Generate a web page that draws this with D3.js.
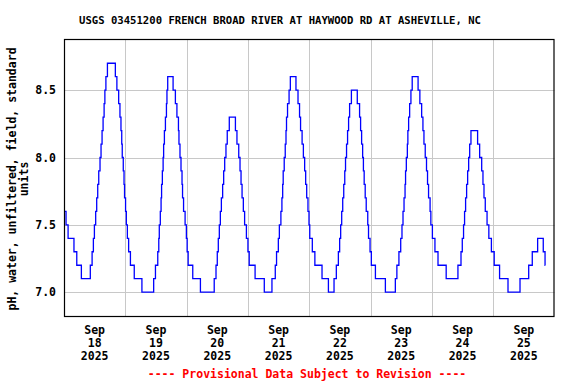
<!DOCTYPE html>
<html><head><meta charset="utf-8">
<title>USGS 03451200 pH</title>
<script src="https://cdn.jsdelivr.net/npm/d3@7"></script>
<style>
body { margin: 0; background: #fff; }
svg text { font-family: "DejaVu Sans Mono", monospace; font-weight: bold; fill: #000; }
</style>
</head>
<body>
<svg id="chart" width="576" height="384"></svg>
<script>
const title = "USGS 03451200 FRENCH BROAD RIVER AT HAYWOOD RD AT ASHEVILLE, NC";
const yLabelLines = ["pH, water, unfiltered, field, standard", "units"];
const footer = "---- Provisional Data Subject to Revision ----";
const xMonth = "Sep";
const xDays = ["18", "19", "20", "21", "22", "23", "24", "25"];
const xYear = "2025";
const yTicks = [7.0, 7.5, 8.0, 8.5];

// points where the reading changes: hours after 2025-09-18 00:00, pH
const stepHours = [
  0.0, 0.8, 1.6, 3.9, 5.0, 6.8, 10.3, 11.0, 11.5, 11.9, 12.4, 12.8, 13.2, 13.6, 14.1, 14.5,
  14.9, 15.3, 15.7, 16.0, 16.4, 17.0, 20.1, 20.7, 21.4, 21.9, 22.3, 22.6, 22.8, 23.2, 23.5, 23.7,
  24.1, 24.4, 24.8, 25.3, 26.0, 27.5, 30.5, 35.1, 35.8, 36.7, 37.1, 37.3, 37.7, 38.0, 38.2, 38.5,
  38.8, 39.0, 39.3, 39.7, 40.1, 40.3, 40.6, 42.7, 43.6, 44.2, 44.8, 45.0, 45.4, 45.8, 46.2, 46.4,
  46.8, 47.4, 47.9, 48.2, 48.6, 50.4, 53.4, 58.8, 59.5, 60.0, 60.4, 60.8, 61.2, 61.6, 62.1, 62.5,
  62.9, 63.4, 63.9, 64.7, 67.1, 67.7, 68.4, 68.9, 69.3, 69.7, 70.2, 70.7, 71.4, 72.0, 72.5, 74.8,
  78.4, 81.4, 82.7, 83.2, 83.9, 84.3, 84.9, 85.3, 85.6, 85.8, 86.2, 86.6, 86.9, 87.1, 87.5, 88.1,
  88.6, 90.8, 91.6, 92.2, 92.6, 93.2, 93.7, 94.2, 94.6, 95.0, 95.5, 95.9, 96.2, 97.2, 98.2, 101.0,
  103.5, 105.7, 106.6, 107.4, 107.9, 108.3, 108.7, 109.1, 109.5, 109.9, 110.2, 110.6, 111.0, 111.4, 111.8, 112.5,
  114.8, 115.7, 116.1, 116.5, 116.9, 117.2, 117.5, 117.9, 118.3, 118.9, 119.2, 119.8, 120.3, 121.9, 125.8, 129.7,
  130.3, 131.1, 131.8, 132.3, 132.7, 133.1, 133.5, 133.7, 134.0, 134.4, 134.6, 134.9, 135.3, 135.8, 136.3, 138.6,
  139.3, 140.0, 140.5, 140.9, 141.4, 141.9, 142.3, 142.7, 143.3, 143.6, 144.2, 145.2, 146.4, 149.6, 154.2, 155.4,
  155.9, 156.4, 156.8, 157.2, 157.6, 158.0, 158.4, 158.8, 159.3, 161.9, 162.7, 163.5, 164.0, 164.4, 164.9, 165.6,
  166.3, 167.3, 168.4, 170.5, 173.8, 178.5, 181.9, 183.3, 185.4, 187.6, 188.3, 188.4
];
const stepValues = [
  7.6, 7.5, 7.4, 7.3, 7.2, 7.1, 7.2, 7.3, 7.4, 7.5, 7.6, 7.7, 7.8, 7.9, 8.0, 8.1,
  8.2, 8.3, 8.4, 8.5, 8.6, 8.7, 8.6, 8.5, 8.4, 8.3, 8.2, 8.1, 8.0, 7.9, 7.8, 7.7,
  7.6, 7.5, 7.4, 7.3, 7.2, 7.1, 7.0, 7.1, 7.2, 7.3, 7.4, 7.5, 7.6, 7.7, 7.8, 7.9,
  8.0, 8.1, 8.2, 8.3, 8.4, 8.5, 8.6, 8.5, 8.4, 8.3, 8.2, 8.1, 8.0, 7.9, 7.8, 7.7,
  7.6, 7.5, 7.4, 7.3, 7.2, 7.1, 7.0, 7.1, 7.2, 7.3, 7.4, 7.5, 7.6, 7.7, 7.8, 7.9,
  8.0, 8.1, 8.2, 8.3, 8.2, 8.1, 8.0, 7.9, 7.8, 7.7, 7.6, 7.5, 7.4, 7.3, 7.2, 7.1,
  7.0, 7.1, 7.2, 7.3, 7.4, 7.5, 7.6, 7.7, 7.8, 7.9, 8.0, 8.1, 8.2, 8.3, 8.4, 8.5,
  8.6, 8.5, 8.4, 8.3, 8.2, 8.1, 8.0, 7.9, 7.8, 7.7, 7.6, 7.5, 7.4, 7.3, 7.2, 7.1,
  7.0, 7.1, 7.2, 7.3, 7.4, 7.5, 7.6, 7.7, 7.8, 7.9, 8.0, 8.1, 8.2, 8.3, 8.4, 8.5,
  8.4, 8.3, 8.2, 8.1, 8.0, 7.9, 7.8, 7.7, 7.6, 7.5, 7.4, 7.3, 7.2, 7.1, 7.0, 7.1,
  7.2, 7.3, 7.4, 7.5, 7.6, 7.7, 7.8, 7.9, 8.0, 8.1, 8.2, 8.3, 8.4, 8.5, 8.6, 8.5,
  8.4, 8.3, 8.2, 8.1, 8.0, 7.9, 7.8, 7.7, 7.6, 7.5, 7.4, 7.3, 7.2, 7.1, 7.2, 7.3,
  7.4, 7.5, 7.6, 7.7, 7.8, 7.9, 8.0, 8.1, 8.2, 8.1, 8.0, 7.9, 7.8, 7.7, 7.6, 7.5,
  7.4, 7.3, 7.2, 7.1, 7.0, 7.1, 7.2, 7.3, 7.4, 7.3, 7.2, 7.2
];

const start = new Date(2025, 8, 18);
const end = new Date(2025, 8, 26);
const data = stepHours.map((h, i) => ({ t: d3.timeMinute.offset(start, Math.round(h * 60)), v: stepValues[i] }));

const plotLeft = 64, plotRight = 554.5, plotTop = 39, plotBottom = 316;
const svg = d3.select("#chart");

const x = d3.scaleTime().domain([start, end]).range([plotLeft, plotRight]);
const y = d3.scaleLinear().domain([6.823, 8.88]).range([plotBottom, plotTop]);

// grid
svg.append("g")
    .selectAll("line")
    .data(d3.timeDay.range(d3.timeDay.offset(start, 1), end))
    .join("line")
    .attr("x1", d => Math.round(x(d)) + 0.5).attr("x2", d => Math.round(x(d)) + 0.5)
    .attr("y1", plotTop).attr("y2", plotBottom)
    .attr("stroke", "#c8c8c8").attr("stroke-width", 1);

svg.append("g")
    .selectAll("line")
    .data(yTicks)
    .join("line")
    .attr("x1", plotLeft).attr("x2", plotRight)
    .attr("y1", d => Math.round(y(d)) + 0.5).attr("y2", d => Math.round(y(d)) + 0.5)
    .attr("stroke", "#c8c8c8").attr("stroke-width", 1);

// series
const line = d3.line()
    .x(d => x(d.t))
    .y(d => y(d.v))
    .curve(d3.curveStepAfter);

svg.append("path")
    .datum(data)
    .attr("d", line)
    .attr("fill", "none")
    .attr("stroke", "#0000ff")
    .attr("stroke-width", 1.3);

// frame
svg.append("rect")
    .attr("x", plotLeft + 0.5).attr("y", plotTop + 0.5)
    .attr("width", plotRight - plotLeft - 1).attr("height", plotBottom - plotTop)
    .attr("fill", "none").attr("stroke", "#000").attr("stroke-width", 1.2);

// y tick labels
svg.append("g")
    .selectAll("text")
    .data(yTicks)
    .join("text")
    .attr("x", 56)
    .attr("y", d => y(d) + 4)
    .attr("text-anchor", "end")
    .style("font-size", "11.5px")
    .text(d3.format(".1f"));

// x tick labels at noon of each day
const xl = svg.append("g")
    .selectAll("text")
    .data(d3.timeDay.range(start, end))
    .join("text")
    .attr("text-anchor", "middle")
    .style("font-size", "11.5px");
xl.append("tspan").attr("x", d => x(d3.timeHour.offset(d, 12))).attr("y", 334).text(xMonth);
xl.append("tspan").attr("x", d => x(d3.timeHour.offset(d, 12))).attr("y", 347).text((d, i) => xDays[i]);
xl.append("tspan").attr("x", d => x(d3.timeHour.offset(d, 12))).attr("y", 360).text(xYear);

// title
svg.append("text")
    .attr("x", 280).attr("y", 24)
    .attr("text-anchor", "middle")
    .style("font-size", "10.6px")
    .text(title);

// y axis label
svg.append("g")
    .attr("transform", "translate(16,179) rotate(-90)")
    .selectAll("text")
    .data(yLabelLines)
    .join("text")
    .attr("x", 0)
    .attr("y", (d, i) => i * 12)
    .attr("text-anchor", "middle")
    .style("font-size", "11.5px")
    .text(d => d);

// footer
svg.append("text")
    .attr("x", 307).attr("y", 378)
    .attr("text-anchor", "middle")
    .style("font-size", "11.5px")
    .style("fill", "#ff0000")
    .text(footer);
</script>
</body></html>
